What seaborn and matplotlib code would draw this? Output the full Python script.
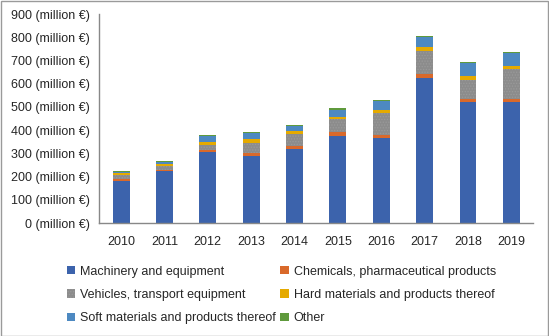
import matplotlib.pyplot as plt
import numpy as np
import pandas as pd
import seaborn as sns

# Values (million EUR)
years = ['2010', '2011', '2012', '2013', '2014', '2015', '2016', '2017', '2018', '2019']
machinery = [181, 223, 307, 289, 319, 376, 367, 624, 521, 521]
chemicals = [8, 7, 7, 11, 14, 17, 12, 19, 13, 13]
vehicles = [19, 18, 22, 43, 50, 55, 95, 98, 82, 129]
hard = [6, 6, 14, 19, 13, 8, 13, 17, 17, 14]
soft = [7, 9, 26, 26, 23, 33, 38, 43, 55, 55]
other = [4, 4, 4, 4, 4, 6, 6, 6, 4, 4]

series = ['Machinery and equipment', 'Chemicals, pharmaceutical products',
          'Vehicles, transport equipment', 'Hard materials and products thereof',
          'Soft materials and products thereof', 'Other']
colors = ['#3C63AC', '#D9692B', '#8C8C8C', '#E5AA00', '#4D89C1', '#5F9A3C']

df = pd.DataFrame({'year': years})
for name, vals in zip(series, [machinery, chemicals, vehicles, hard, soft, other]):
    df[name] = vals
# cumulative sums so bars can be stacked by overdrawing
cum = df[series].cumsum(axis=1)

sns.set_style('white')
plt.rcParams['font.family'] = ['Liberation Sans', 'DejaVu Sans']
plt.rcParams['hatch.linewidth'] = 0.6

fig = plt.figure(figsize=(5.49, 3.36), dpi=100)
ax = fig.add_axes([0.181, 0.336, 0.79, 0.622])

for name, col in reversed(list(zip(series, colors))):
    if name == 'Vehicles, transport equipment':
        kw = dict(hatch='......', edgecolor='#9a9a9a', linewidth=0)
    else:
        kw = dict(linewidth=0)
    sns.barplot(x=df['year'], y=cum[name], color=col, width=0.39, ax=ax,
                saturation=1, label=name, **kw)

ax.set_ylim(0, 900)
ax.set_yticks(range(0, 901, 100))
ax.set_yticklabels([f'{v} (million €)' for v in range(0, 901, 100)], fontsize=9)
ax.set_xlim(-0.5, 9.5)
ax.set_xlabel('')
ax.set_ylabel('')
ax.tick_params(axis='x', which='major', length=0, pad=9, labelsize=9)
ax.set_xticks(np.arange(-0.5, 10, 1), minor=True)
ax.tick_params(axis='x', which='minor', length=5, color='#888888', direction='out')
ax.tick_params(axis='y', length=4, color='#888888', direction='out', pad=3)
for s in ['top', 'right']:
    ax.spines[s].set_visible(False)
for s in ['left', 'bottom']:
    ax.spines[s].set_color('#888888')
    ax.spines[s].set_linewidth(1)

# legend: rows of two, in the series order
h, l = ax.get_legend_handles_labels()
lookup = dict(zip(l, h))
order = [series[0], series[2], series[4], series[1], series[3], series[5]]
ax.legend([lookup[n] for n in order], order, ncol=2, loc='upper left',
          bbox_to_anchor=(-0.10, -0.15), frameon=False, fontsize=9,
          handlelength=0.65, handleheight=0.65, handletextpad=0.4,
          columnspacing=0.35, labelspacing=0.9)

fig.patches.append(plt.Rectangle((0.001, 0.001), 0.997, 0.996, transform=fig.transFigure,
                                 fill=False, edgecolor='#9a9a9a', linewidth=1))

plt.savefig('out.png', dpi=100)
